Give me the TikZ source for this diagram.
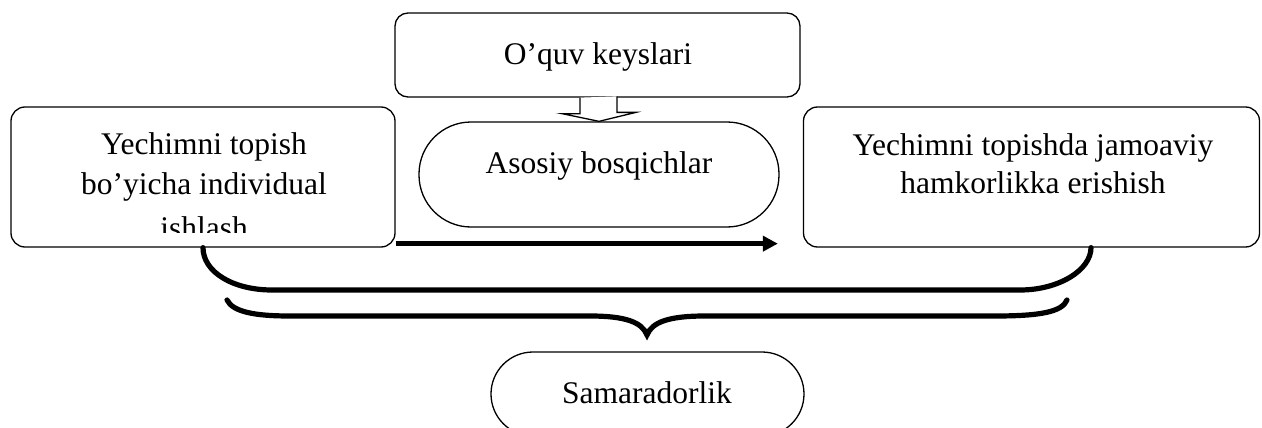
\documentclass[tikz,border=0pt]{standalone}
\usepackage{fontspec}
\setmainfont{Liberation Serif}
\usetikzlibrary{arrows.meta}
\begin{document}
\begin{tikzpicture}[x=1pt,y=-1pt,
  box/.style={draw,line width=1.3pt,rounded corners=13pt,inner sep=0pt},
  pill/.style={draw,line width=1.3pt,inner sep=0pt},
  txt/.style={inner sep=0pt,anchor=base,font=\fontsize{31.5}{41}\selectfont},
  hollow/.style={draw,fill=white,line width=1.3pt,line join=miter},
  thick arrow/.style={line width=5pt,-{Triangle[length=15pt,width=15pt]}},
  brace/.style={line width=5.2pt,line cap=round}]
\clip (0,0) rectangle (1262,428);
\fill[white] (0,0) rectangle (1262,428);
% boxes
\node[box,minimum width=405pt,minimum height=84pt] (top) at (597.5,55) {};
\node[box,rounded corners=14pt,minimum width=384pt,minimum height=140pt] (left) at (203,177) {};
\node[box,rounded corners=14pt,minimum width=456pt,minimum height=140pt] (right) at (1031.5,177) {};
\node[pill,rounded corners=52pt,minimum width=360pt,minimum height=105pt] (mid) at (599,174.5) {};
\node[pill,rounded corners=42pt,minimum width=313pt,minimum height=84pt] (bot) at (647.5,394) {};
% texts
\node[txt] (topT) at (598,65) {O’quv keyslari};
\node[txt] (leftT1) at (204,154) {Yechimni topish};
\node[txt] (leftT2) at (204,194) {bo’yicha individual};
\begin{scope}
\clip (11,107) rectangle (395,232);
\node[txt] (leftT3) at (204,238) {ishlash};
\end{scope}
\node[txt] (rightT1) at (1033,155) {Yechimni topishda jamoaviy};
\node[txt] (rightT2) at (1033,193) {hamkorlikka erishish};
\node[txt] (midT) at (599,173) {Asosiy bosqichlar};
\node[txt] (botT) at (647,403) {Samaradorlik};
% hollow arrow from top box to main stages
\draw[hollow] ([xshift=-17.5pt]top.south) -- ++(0,16) -- ++(-18,0) -- (mid.north)
  -- ++(37,-9) -- ++(-19,0) -- ++(0,-16);
% thick arrow
\draw[thick arrow] ([yshift=4pt]left.south east) -- ([xshift=-25pt,yshift=4pt]right.south west);
% upper bracket
\draw[brace] (left.south) .. controls (203,272) and (233,290) .. (272,290)
  -- (1020,290) .. controls (1059,290) and (1091,270) .. ([xshift=59.5pt]right.south);
% lower curly brace
\draw[brace] (227,300) .. controls (233,312) and (255,316) .. (290,316)
  -- (590,316) .. controls (625,316) and (642,322) .. (647,335)
  .. controls (652,322) and (669,316) .. (705,316)
  -- (995,316) .. controls (1040,316) and (1062,312) .. (1067,300);
\end{tikzpicture}
\end{document}
